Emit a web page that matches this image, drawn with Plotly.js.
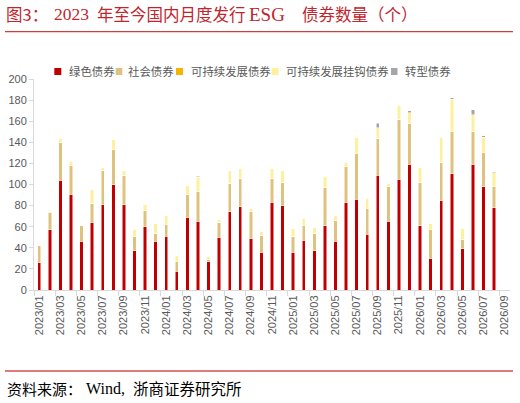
<!DOCTYPE html>
<html><head><meta charset="utf-8">
<script src="https://cdn.plot.ly/plotly-3.0.1.min.js"></script>
<style>html,body{margin:0;padding:0;background:#fff;}#chart{width:520px;height:403px;}</style>
</head><body><div id="chart"></div>
<script>
const months = ["2023/01","2023/02","2023/03","2023/04","2023/05","2023/06","2023/07","2023/08","2023/09","2023/10","2023/11","2023/12",
"2024/01","2024/02","2024/03","2024/04","2024/05","2024/06","2024/07","2024/08","2024/09","2024/10","2024/11","2024/12",
"2025/01","2025/02","2025/03","2025/04","2025/05","2025/06","2025/07","2025/08","2025/09","2025/10","2025/11","2025/12",
"2026/01","2026/02","2026/03","2026/04","2026/05","2026/06","2026/07","2026/08","2026/09"];

const green =       [26,57,104,91,46,64,81,100,81,37,60,46,51,18,69,65,27,50,74,79,49,36,83,80,36,47,37,61,46,83,86,53,109,65,105,119,61,30,85,110,39,119,98,78];
const social =      [16,16,36,27,15,18,32,33,28,14,15,8,11,9,22,28,2,14,27,27,25,16,23,22,15,14,17,36,20,34,43,24,35,33,57,39,41,27,36,40,9,31,32,20];
const sustainable = [0,0,0,0,0,0,0,0,0,0,0,0,0,0,0,0,0,0,0,0,0,0,0,0,0,0,0,0,0,0,0,0,0,0,0,0,0,0,0,0,0,0,0,0];
const linked =      [0,1,4,4,0,13,3,10,4,6,6,9,9,6,8,14,3,3,12,9,3,3,9,11,7,7,5,11,5,4,16,10,10,3,13,10,14,6,24,31,10,16,15,13];
const transition =  [0,0,0,0,0,0,0,0,0,0,0,0,0,0,0,1,0,0,0,0,0,0,0,0,0,0,0,0,0,0,0,0,4,0,0,2,0,0,0,1,0,5,1,1];

const seriesNames = ["绿色债券","社会债券","可持续发展债券","可持续发展挂钩债券","转型债券"];
const seriesData = [green, social, sustainable, linked, transition];
const seriesColors = ["#C00000","#DFC27D","#F5B400","#FFF09C","#A6A6A6"];

const xs = months.slice(0, green.length);
const traces = seriesData.map((d, i) => ({
  type: 'bar', name: seriesNames[i], x: xs, y: d,
  marker: {color: seriesColors[i], line: {color: '#ffffff', width: 0.5}},
  hoverinfo: 'skip'
}));

const L = 34, T = 79, W = 476, H = 211;
const px = x => (x - L) / W;
const py = y => (T + H - y) / H;

const titleColor = '#C0262E';
const serif = '"Liberation Serif", "Times New Roman", "Noto Sans CJK SC", serif';
const cjk = '"Noto Sans CJK SC", "Liberation Serif", serif';

const annotations = [];
function addText(text, x, y, size, color, family) {
  annotations.push({text: text, xref: 'paper', yref: 'paper', x: px(x), y: py(y),
    xanchor: 'left', yanchor: 'middle', showarrow: false, borderpad: 0,
    font: {size: size, color: color, family: family}});
}
// title
addText('图3：', 5, 14, 16.5, titleColor, cjk);
addText('2023', 53, 14, 17.5, titleColor, serif);
addText('年至今国内月度发行', 95.5, 14, 16.5, titleColor, cjk);
addText('ESG', 248, 14, 19, titleColor, serif);
addText('债券数量（个）', 300.5, 14, 16.5, titleColor, cjk);
// source
addText('资料来源：', 5.5, 388, 15, '#000000', cjk);
addText('Wind,', 85, 388, 16, '#000000', serif);
addText('浙商证券研究所', 132, 388, 15.5, '#000000', cjk);

// legend
const legendSq = [[54.3, 61.3], [115.7, 122.3], [176, 183], [271.7, 278.5], [391, 397.5]];
const legendTx = [67.5, 126.5, 190, 285, 403.5];
const shapes = [];
seriesNames.forEach((n, i) => {
  shapes.push({type: 'rect', xref: 'paper', yref: 'paper',
    x0: px(legendSq[i][0]), x1: px(legendSq[i][1]), y0: py(75), y1: py(68),
    fillcolor: seriesColors[i], line: {width: 0}});
  addText(n, legendTx[i], 71.5, 11.4, '#595959', cjk);
});
// header / footer rules
shapes.push({type: 'line', xref: 'paper', yref: 'paper', x0: px(5), x1: px(513), y0: py(31.7), y1: py(31.7),
  line: {color: '#C8423F', width: 1.2}});
shapes.push({type: 'line', xref: 'paper', yref: 'paper', x0: px(5), x1: px(513), y0: py(371), y1: py(371),
  line: {color: '#DE7B7B', width: 2}});

const layout = {
  width: 520, height: 403,
  margin: {l: L, r: 520 - L - W, t: T, b: 403 - T - H, pad: 0},
  barmode: 'stack', bargap: 0.68, showlegend: false,
  paper_bgcolor: '#ffffff', plot_bgcolor: '#ffffff',
  font: {family: '"Liberation Sans", Arial, "Noto Sans CJK SC", sans-serif', color: '#595959'},
  xaxis: {type: 'category', categoryorder: 'array', categoryarray: months,
    range: [-0.5, months.length - 0.5], tickmode: 'linear', tick0: 0, dtick: 2,
    tickson: 'boundaries', ticks: 'outside', ticklen: 5, tickcolor: '#D9D9D9', tickwidth: 1,
    showline: true, linecolor: '#D9D9D9', linewidth: 1, tickangle: -90,
    tickfont: {size: 11, color: '#595959'}, showgrid: false, zeroline: false, fixedrange: true},
  yaxis: {range: [0, 200], tickmode: 'linear', tick0: 0, dtick: 20, ticks: 'outside', ticklen: 4,
    tickcolor: '#D9D9D9', showline: true, linecolor: '#D9D9D9', linewidth: 1,
    showgrid: false, zeroline: false, tickfont: {size: 11, color: '#595959'}, fixedrange: true},
  shapes: shapes,
  annotations: annotations
};

Plotly.newPlot('chart', traces, layout, {staticPlot: true, displayModeBar: false});
</script>
</body></html>
